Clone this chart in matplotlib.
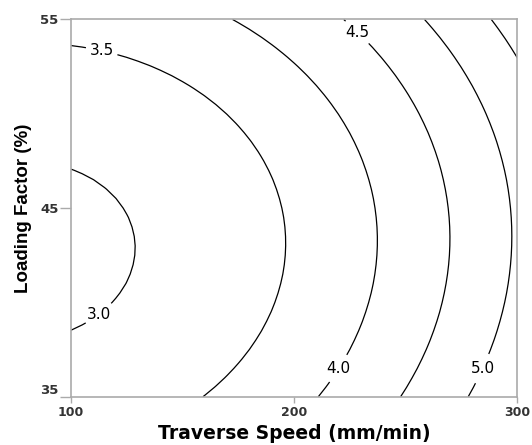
import numpy as np
import matplotlib
matplotlib.use("Agg")
import matplotlib.pyplot as plt

# Response surface model (coded units): u = (speed-200)/100, v = (loading-45)/10
coef_names = ["b0", "b_u", "b_v", "b_uu", "b_vv", "b_uv"]
coef_values = [3.5575, 1.0639, 0.1870, 0.4386, 0.5057, -0.0358]

speed_range = [100, 300]
loading_range = [35, 55]
levels = [3.0, 3.5, 4.0, 4.5, 5.0, 5.5]
label_levels = [3.0, 3.5, 4.0, 4.5, 5.0]
label_positions = [(112.5, 39.4), (113.7, 53.3), (219.7, 36.5), (228.0, 54.3), (284.0, 36.5)]
x_ticks = [100, 200, 300]
y_ticks = [35, 45, 55]

b = dict(zip(coef_names, coef_values))
xs = np.linspace(speed_range[0], speed_range[1], 41)
ys = np.linspace(loading_range[0], loading_range[1], 41)
X, Y = np.meshgrid(xs, ys)
U = (X - 200) / 100
V = (Y - 45) / 10
Z = (b["b0"] + b["b_u"] * U + b["b_v"] * V + b["b_uu"] * U**2
     + b["b_vv"] * V**2 + b["b_uv"] * U * V)

fig = plt.figure(figsize=(5.32, 4.45), dpi=100)
ax = fig.add_axes([0.1335, 0.1085, 0.9727 - 0.1335, 0.9562 - 0.1085])

cs = ax.contour(X, Y, Z, levels=levels, colors="black", linewidths=0.9)
texts = ax.clabel(cs, levels=label_levels, manual=label_positions, inline=True,
                  inline_spacing=4, fmt="%.1f", fontsize=11)
for t in texts:
    t.set_rotation(0)

ax.set_xlim(speed_range)
ax.set_ylim(loading_range)
ax.set_xticks(x_ticks)
ax.set_yticks(y_ticks)
ax.set_xticklabels([str(v) for v in x_ticks], fontsize=9, fontweight="bold", color="#333333")
ax.set_yticklabels([str(v) for v in y_ticks], fontsize=9.5, fontweight="bold", color="#333333")
ax.get_yticklabels()[0].set_va("bottom")
ax.tick_params(axis="x", length=4, width=1, color="#aaaaaa", pad=3)
ax.tick_params(axis="y", length=8, width=1, color="#aaaaaa", pad=1)
for s in ax.spines.values():
    s.set_color("#aaaaaa")
    s.set_linewidth(1.2)

ax.set_xlabel("Traverse Speed (mm/min)", fontsize=13.5, fontweight="bold", labelpad=3)
ax.set_ylabel("Loading Factor (%)", fontsize=13.5, fontweight="bold",
              family=["Liberation Sans", "DejaVu Sans"], labelpad=6)

fig.savefig("out.png", dpi=100)
